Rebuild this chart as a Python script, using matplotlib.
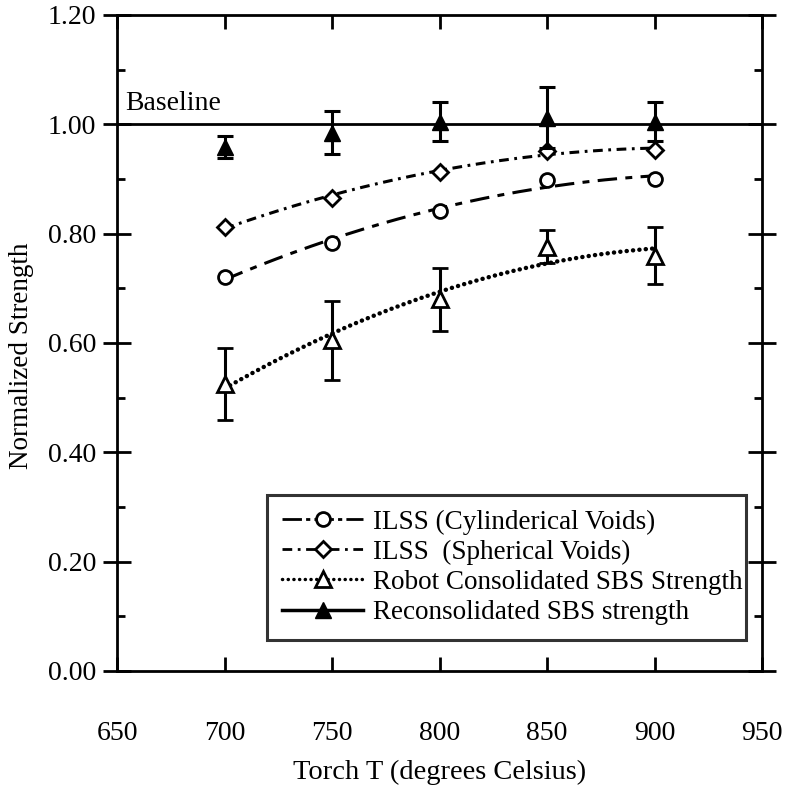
import numpy as np
import matplotlib
matplotlib.use("Agg")
import matplotlib.pyplot as plt
from matplotlib.lines import Line2D
from matplotlib.ticker import MultipleLocator, FormatStrFormatter

# Torch temperature settings (degrees Celsius)
torch_t = [700, 750, 800, 850, 900]

# Normalized strength values
ilss_cyl = [0.720, 0.783, 0.842, 0.898, 0.900]
ilss_sph = [0.812, 0.866, 0.913, 0.952, 0.953]
robot_sbs = [0.525, 0.605, 0.680, 0.776, 0.760]
robot_sbs_err = [0.065, 0.072, 0.058, 0.030, 0.052]
recon_sbs = [0.959, 0.985, 1.005, 1.012, 1.005]
recon_sbs_err = [0.020, 0.040, 0.035, 0.056, 0.035]

baseline = 1.0

labels = ["ILSS (Cylinderical Voids)",
          "ILSS  (Spherical Voids)",
          "Robot Consolidated SBS Strength",
          "Reconsolidated SBS strength"]

plt.rcParams["font.family"] = ["Liberation Serif", "DejaVu Serif"]
plt.rcParams["lines.scale_dashes"] = False

fig = plt.figure(figsize=(7.89, 7.88), dpi=100)
ax = fig.add_axes([0.1483, 0.1485, 0.8175, 0.8325])

ax.set_xlim(650, 950)
ax.set_ylim(0.0, 1.2)

# Baseline reference
ax.axhline(baseline, color="black", lw=2.0, zorder=2)
ax.text(654, baseline + 0.015, "Baseline", fontsize=20, va="bottom", ha="left")

x = np.array(torch_t, dtype=float)
xs = np.linspace(x.min(), x.max(), 200)


def trend(yvals):
    coef = np.polyfit(x, np.array(yvals), 2)
    return np.polyval(coef, xs)


cyl_dash = (0, (14, 6, 5, 6))
sph_dash = (0, (7, 4, 2, 4))
dot_dash = (0, (0.1, 4.5))

ax.plot(xs, trend(ilss_cyl), color="black", lw=2.2, linestyle=cyl_dash, zorder=3)
ax.plot(x, ilss_cyl, linestyle="none", marker="o", ms=10, mfc="white",
        mec="black", mew=2.0, zorder=4)

ax.plot(xs, trend(ilss_sph), color="black", lw=2.2, linestyle=sph_dash, zorder=3)
ax.plot(x, ilss_sph, linestyle="none", marker="D", ms=8, mfc="white",
        mec="black", mew=2.0, zorder=4)

ax.plot(xs, trend(robot_sbs), color="black", lw=3.2, linestyle=dot_dash,
        dash_capstyle="round", zorder=3)
ax.errorbar(x, robot_sbs, yerr=robot_sbs_err, fmt="^", ms=11, mfc="white",
            mec="black", mew=2.0, ecolor="black", elinewidth=2.2, capsize=6,
            capthick=2.2, zorder=4)

ax.errorbar(x, recon_sbs, yerr=recon_sbs_err, fmt="^", ms=11, mfc="black",
            mec="black", ecolor="black", elinewidth=2.2, capsize=6,
            capthick=2.2, zorder=4)

# Axis styling
for side in ["left", "right", "top", "bottom"]:
    ax.spines[side].set_linewidth(2.0)

ax.xaxis.set_major_locator(MultipleLocator(50))
ax.yaxis.set_major_locator(MultipleLocator(0.2))
ax.yaxis.set_minor_locator(MultipleLocator(0.1))
ax.yaxis.set_major_formatter(FormatStrFormatter("%.2f"))

ax.tick_params(axis="x", which="major", direction="in", length=10, width=2.0,
               top=True, bottom=True, labelsize=20, pad=36)
ax.tick_params(axis="y", which="major", direction="inout", length=20, width=2.0,
               left=True, right=True, labelsize=20, pad=5)
ax.tick_params(axis="y", which="minor", direction="in", length=6, width=2.0,
               left=True, right=True)

ax.set_xlabel("Torch T (degrees Celsius)", fontsize=20.5, labelpad=10)
ax.set_ylabel("Normalized Strength", fontsize=19.5)
ax.yaxis.set_label_coords(-0.128, 0.48)

handles = [
    Line2D([], [], color="black", lw=2.0, linestyle=(0, (14, 3, 3, 3)),
           marker="o", ms=10, mfc="white", mec="black", mew=2.0),
    Line2D([], [], color="black", lw=2.0, linestyle=sph_dash,
           marker="D", ms=8, mfc="white", mec="black", mew=2.0),
    Line2D([], [], color="black", lw=2.5, linestyle=(0, (0.1, 4.0)),
           dash_capstyle="round", marker="^", ms=11, mfc="white",
           mec="black", mew=2.0),
    Line2D([], [], color="black", lw=2.5, linestyle="-",
           marker="^", ms=11, mfc="black", mec="black"),
]
leg = ax.legend(handles, labels, loc="lower left",
                bbox_to_anchor=(0.2326, 0.0472, 0.7426, 0.2149),
                mode="expand", fontsize=19.5, frameon=True, fancybox=False,
                handlelength=3.0, handletextpad=0.35, labelspacing=0.19,
                borderpad=0.55, borderaxespad=0.0)
leg.get_frame().set_edgecolor("black")
leg.get_frame().set_linewidth(2.2)

fig.savefig("out.png", dpi=100)
